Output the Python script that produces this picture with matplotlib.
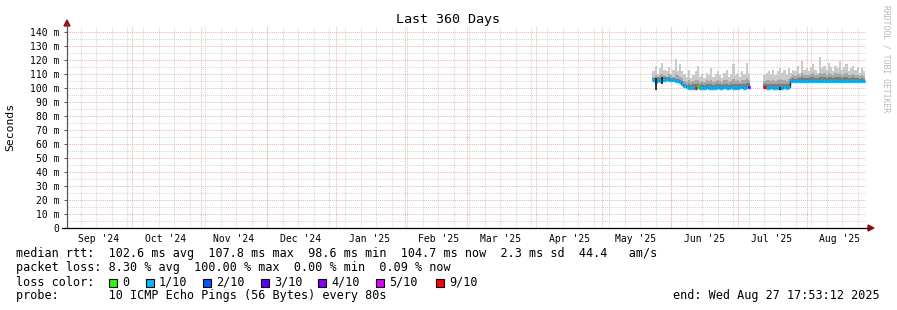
import matplotlib

matplotlib.use("Agg")
import matplotlib.pyplot as plt
import matplotlib.dates as mdates
from matplotlib.lines import Line2D
from matplotlib.patches import Rectangle, Polygon
import numpy as np
import pandas as pd

# ---- data ----
END = pd.Timestamp("2025-08-27 17:53:12")
START = END - pd.Timedelta(days=360)

seg1_first = "2025-05-24"
med1 = [105.5, 104.5, 106.0, 105.0, 105.5, 106.0, 106.5, 106.0, 105.5, 105.5, 105.0, 105.0, 104.5, 103.0,
        101.5, 100.5, 100.2, 100.3, 100.0, 100.2, 100.4, 100.3, 100.1, 100.2, 100.5, 100.3, 100.2, 100.0,
        100.3, 100.4, 100.2, 100.3, 100.5, 100.3, 100.2, 100.4, 100.3, 100.1, 100.3, 100.5, 100.4, 100.3,
        100.6, 100.8]
max1 = [112, 116, 110, 114, 118, 113, 112, 115, 110, 113, 121, 112, 117, 112,
        110, 108, 113, 107, 109, 112, 116, 108, 110, 107, 111, 109, 114, 108,
        110, 112, 109, 107, 111, 113, 108, 110, 117, 109, 111, 108, 112, 110,
        118, 111]
mid1 = [108, 109, 108, 109, 110, 109, 108, 110, 109, 108, 110, 109, 108, 107,
        105, 104.5, 106, 104, 105, 105.5, 106, 104.5, 105, 104, 105.5, 105, 106, 104.5,
        105, 105.5, 105, 104, 105.5, 106, 104.5, 105, 106.5, 105, 105.5, 104.5, 106, 105.5,
        107, 105.5]
dark1 = [107, 106.5, 107.5, 107, 107.5, 108, 108, 107.5, 107, 107, 106.5, 106.5, 106, 105,
         103, 102, 102.5, 102, 102.5, 102.5, 103, 102, 102.5, 102, 102.5, 102.5, 103, 102,
         102.5, 103, 102.5, 102, 102.5, 103, 102, 102.5, 103, 102.5, 103, 102.5, 103, 103,
         103.5, 103.5]
loss1 = [1, 1, 1, 1, 1, 1, 1, 1, 1, 1, 1, 1, 1, 1,
         1, 1, 1, 1, 1, 9, 0, 1, 1, 1, 1, 1, 1, 1,
         1, 1, 1, 1, 1, 1, 1, 1, 1, 1, 1, 1, 1, 1,
         1, 3]

seg2_first = "2025-07-13"
med2 = [100.5, 100.3, 100.2, 100.4, 100.3, 100.0, 100.2, 100.3, 100.1, 100.4, 100.3, 100.6,
        104.8, 104.9, 105.0, 104.8, 104.7, 104.9, 105.0, 105.1, 104.9, 104.8, 105.0, 105.2,
        105.0, 104.9, 105.1, 105.0, 104.8, 104.9, 105.0, 105.1, 104.9, 104.8, 105.0, 104.9,
        105.0, 104.8, 104.9, 104.7, 104.8, 104.9, 104.8, 104.7, 104.8, 104.7]
max2 = [109, 111, 112, 110, 113, 109, 112, 114, 111, 113, 110, 114,
        111, 113, 112, 116, 111, 119, 113, 114, 112, 115, 117, 113,
        111, 122, 114, 116, 113, 118, 115, 112, 116, 114, 119, 113,
        115, 117, 112, 114, 116, 113, 115, 111, 114, 112]
mid2 = [105, 105.5, 106, 105, 106, 105, 106, 106.5, 105.5, 106, 105, 106.5,
        108, 109, 108.5, 110, 108.5, 110.5, 109, 109.5, 109, 110, 110.5, 109.5,
        109, 111, 110, 110.5, 109.5, 111, 110, 109, 110.5, 110, 111, 109.5,
        110, 110.5, 109, 109.5, 110, 109, 109.5, 108.5, 109, 108.5]
dark2 = [102.5, 102.5, 103, 102.5, 103, 102.5, 103, 103, 102.5, 103, 102.5, 103,
         106.5, 107, 106.5, 107, 107, 107.5, 107, 107, 107, 107.5, 107.5, 107,
         107, 107.5, 107.5, 107.5, 107, 108, 107.5, 107, 107.5, 107.5, 108, 107,
         107.5, 107.5, 107, 107, 107.5, 107, 107, 106.5, 107, 106.5]
loss2 = [9, 1, 1, 1, 1, 1, 1, 1, 1, 1, 1, 1,
         1, 1, 1, 1, 1, 1, 1, 1, 1, 1, 1, 1,
         1, 1, 1, 1, 1, 1, 1, 1, 1, 1, 1, 1,
         1, 1, 1, 1, 1, 1, 1, 1, 1, 1]

dip_dates = ["2025-05-25", "2025-05-28", "2025-07-20"]
dip_high = [107.0, 108.0, 101.0]
dip_low = [98.6, 102.6, 98.6]

loss_levels = [0, 1, 2, 3, 4, 5, 9]
loss_labels = ["0", "1/10", "2/10", "3/10", "4/10", "5/10", "9/10"]
loss_colors = ["#26ff00", "#00b8ff", "#0059ff", "#5e00ff", "#7e00ff", "#dd00ff", "#ff0000"]

yticks = [0, 10, 20, 30, 40, 50, 60, 70, 80, 90, 100, 110, 120, 130, 140]

stats_lines = [
    "median rtt:  102.6 ms avg  107.8 ms max  98.6 ms min  104.7 ms now  2.3 ms sd  44.4   am/s",
    "packet loss: 8.30 % avg  100.00 % max  0.00 % min  0.09 % now",
    "loss color:",
    "probe:       10 ICMP Echo Pings (56 Bytes) every 80s",
]

# ---- layout ----
W, H = 897, 310
MONO = "DejaVu Sans Mono"
RED = "#f2b4b4"
GREY = "#d6d6d6"
ARROW = "#9a1010"


def fx(x):
    return x / W


def fy(y):
    return 1 - y / H


fig = plt.figure(figsize=(W / 100, H / 100), dpi=100)
ax = fig.add_axes([fx(67), fy(228), 799 / W, 201 / H])
ax.set_xlim(mdates.date2num(START), mdates.date2num(END))
ax.set_ylim(0, 143.5)
for s in ax.spines.values():
    s.set_visible(False)

dots = (0, (1, 1))
for v in np.arange(5, 143, 10):
    ax.axhline(v, color=GREY, lw=0.75, ls=dots, zorder=1)
for d in pd.date_range("2024-09-08", END, freq="7D"):
    ax.axvline(mdates.date2num(d), color=GREY, lw=0.75, ls=dots, zorder=1)
for v in yticks[1:]:
    ax.axhline(v, color=RED, lw=0.75, ls=dots, zorder=2)
for d in pd.date_range("2024-10-01", END, freq="MS"):
    ax.axvline(mdates.date2num(d), color=RED, lw=0.75, ls=dots, zorder=2)

# ---- smoke + median ----
cmap = dict(zip(loss_levels, loss_colors))
for first, med, mx, md, dk, loss in [(seg1_first, med1, max1, mid1, dark1, loss1),
                                      (seg2_first, med2, max2, mid2, dark2, loss2)]:
    days = mdates.date2num(pd.date_range(first, periods=len(med)))
    edges = np.append(days - 0.5, days[-1] + 0.5)
    med = np.array(med)
    ax.stairs(mx, edges, baseline=med, fill=True, color="#cacaca", lw=0, zorder=3)
    ax.stairs(md, edges, baseline=med, fill=True, color="#a6a6a6", lw=0, zorder=4)
    ax.stairs(dk, edges, baseline=med, fill=True, color="#7c7c7c", lw=0, zorder=5)
    ax.stairs(med, edges, baseline=None, color="#202020", lw=1.0, zorder=6)
    ax.hlines(med, edges[:-1], edges[1:], colors=[cmap[l] for l in loss], lw=2.4, zorder=7)

ax.vlines(mdates.date2num(pd.to_datetime(dip_dates)), dip_low, dip_high, color="#151515", lw=1.2, zorder=8)

# ---- ticks ----
ax.set_yticks(yticks)
ax.set_yticklabels(["0" if v == 0 else f"{v} m" for v in yticks], fontfamily=MONO, fontsize=7)
ax.tick_params(axis="y", length=2, width=0.7, color="#555555", pad=3.6)
mids = pd.date_range("2024-09-01", END, freq="MS") + pd.Timedelta(days=15)
ax.set_xticks(mdates.date2num(mids))
ax.set_xticklabels([m.strftime("%b '%y") for m in mids], fontfamily=MONO, fontsize=7)
ax.tick_params(axis="x", length=0, pad=4)

# ---- axes lines and arrows ----
fig.add_artist(Line2D([fx(67), fx(67)], [fy(228), fy(24)], color="#555555", lw=0.9))
fig.add_artist(Line2D([fx(62), fx(869)], [fy(228), fy(228)], color="#000000", lw=0.9))
fig.add_artist(Polygon([(fx(64), fy(26)), (fx(70), fy(26)), (fx(67), fy(20))], closed=True,
                       color=ARROW, transform=fig.transFigure))
fig.add_artist(Polygon([(fx(868), fy(225)), (fx(868), fy(231)), (fx(874), fy(228))], closed=True,
                       color=ARROW, transform=fig.transFigure))

# ---- texts ----
fig.text(fx(448), fy(19), "Last 360 Days", family=MONO, fontsize=9.6, ha="center", va="center")
fig.text(fx(10), fy(127), "Seconds", family=MONO, fontsize=8.2, rotation=90, ha="center", va="center")
fig.text(fx(886), fy(5), "RRDTOOL / TOBI OETIKER", family=MONO, fontsize=5.8, rotation=270,
         color="#b8b8b8", ha="center", va="top")
for i, line in enumerate(stats_lines):
    fig.text(fx(16), fy(254 + 14 * i), line, family=MONO, fontsize=8.5, ha="left", va="center")
fig.text(fx(880), fy(296), "end: Wed Aug 27 17:53:12 2025", family=MONO, fontsize=8.5, ha="right", va="center")

sq_x = [109, 145.7, 203.3, 261, 318.3, 376, 436]
for x, lab, col in zip(sq_x, loss_labels, loss_colors):
    fig.add_artist(Rectangle((fx(x), fy(287)), 8 / W, 8 / H, transform=fig.transFigure,
                             facecolor=col, edgecolor="black", lw=0.8))
    fig.text(fx(x + 13), fy(282), lab, family=MONO, fontsize=8.5, ha="left", va="center")

fig.savefig("out.png", dpi=100)
